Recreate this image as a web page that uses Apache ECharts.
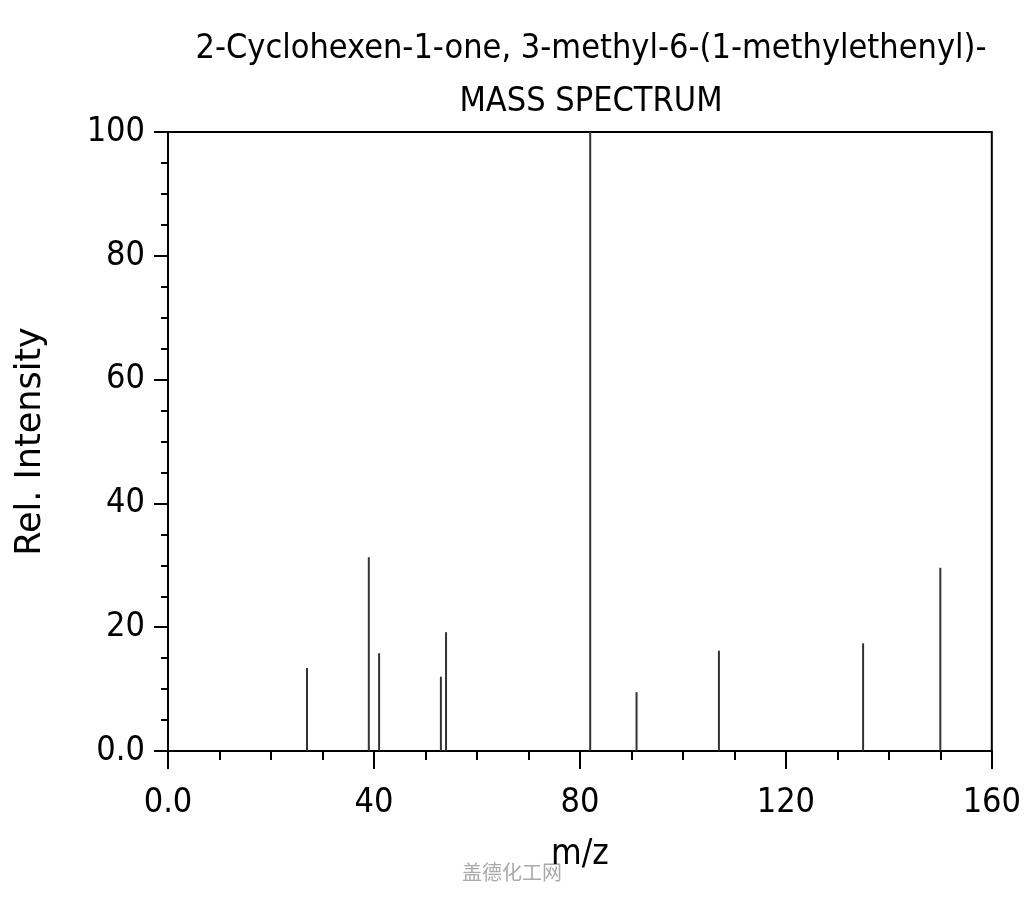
<!DOCTYPE html>
<html>
<head>
<meta charset="utf-8">
<script src="https://cdn.jsdelivr.net/npm/echarts@6/dist/echarts.min.js"></script>
<style>
  html, body { margin: 0; padding: 0; background: #fff; }
  #chart { width: 1024px; height: 900px; }
</style>
</head>
<body>
<div id="chart"></div>
<script>
// m/z positions and relative intensities
const mzValues = [27, 39, 41, 53, 54, 82, 91, 107, 135, 150];
const intensities = [13.4, 31.3, 15.8, 12.0, 19.2, 100, 9.5, 16.2, 17.4, 29.6];
const xTicks = [0, 40, 80, 120, 160];
const yTicks = [0, 20, 40, 60, 80, 100];

const FONT = '"DejaVu Sans Condensed", "DejaVu Sans", sans-serif';

const peaks = mzValues.map((mz, i) => [mz, intensities[i]]);

const chart = echarts.init(document.getElementById('chart'));

chart.setOption({
  backgroundColor: '#fff',
  animation: false,
  title: {
    text: '2-Cyclohexen-1-one, 3-methyl-6-(1-methylethenyl)-\nMASS SPECTRUM',
    left: 586,
    top: 18,
    textAlign: 'center',
    textStyle: {
      fontFamily: FONT,
      fontWeight: 'normal',
      fontSize: 34,
      lineHeight: 53,
      color: '#000'
    }
  },
  grid: {
    left: 168,
    right: 32,
    top: 132,
    bottom: 149,
    show: true,
    borderColor: '#000',
    borderWidth: 2
  },
  xAxis: {
    type: 'value',
    min: xTicks[0],
    max: xTicks[xTicks.length - 1],
    interval: 40,
    name: 'm/z',
    nameLocation: 'middle',
    nameGap: 86,
    nameTextStyle: { fontFamily: FONT, fontSize: 35, color: '#000' },
    axisLine: { show: true, lineStyle: { color: '#000', width: 2 } },
    axisTick: { show: true, inside: false, length: 18, lineStyle: { color: '#000', width: 2 } },
    minorTick: { show: true, splitNumber: 4, length: 9, lineStyle: { color: '#000', width: 2 } },
    splitLine: { show: false },
    axisLabel: {
      margin: 35,
      fontFamily: FONT,
      fontSize: 34,
      color: '#000',
      formatter: v => (v === 0 ? '0.0' : String(v))
    }
  },
  yAxis: {
    type: 'value',
    min: yTicks[0],
    max: yTicks[yTicks.length - 1],
    interval: 20,
    name: 'Rel. Intensity',
    nameLocation: 'middle',
    nameGap: 120,
    nameTextStyle: { fontFamily: '"DejaVu Sans", sans-serif', fontSize: 35, color: '#000' },
    axisLine: { show: true, lineStyle: { color: '#000', width: 2 } },
    axisTick: { show: true, inside: false, length: 14, lineStyle: { color: '#000', width: 2 } },
    minorTick: { show: true, splitNumber: 4, length: 7, lineStyle: { color: '#000', width: 2 } },
    splitLine: { show: false },
    axisLabel: {
      margin: 23,
      fontFamily: FONT,
      fontSize: 34,
      color: '#000',
      formatter: v => (v === 0 ? '0.0' : String(v))
    }
  },
  series: [{
    type: 'custom',
    data: peaks,
    renderItem: (params, api) => {
      const top = api.coord([api.value(0), api.value(1)]);
      const base = api.coord([api.value(0), 0]);
      return {
        type: 'line',
        shape: { x1: base[0], y1: base[1], x2: top[0], y2: top[1] },
        style: { stroke: '#333', lineWidth: 2 }
      };
    }
  }],
  graphic: [{
    type: 'text',
    left: 'center',
    top: 862,
    style: {
      text: '盖德化工网',
      font: '20px "Noto Sans CJK SC", sans-serif',
      fill: '#aaa'
    }
  }]
});
</script>
</body>
</html>
